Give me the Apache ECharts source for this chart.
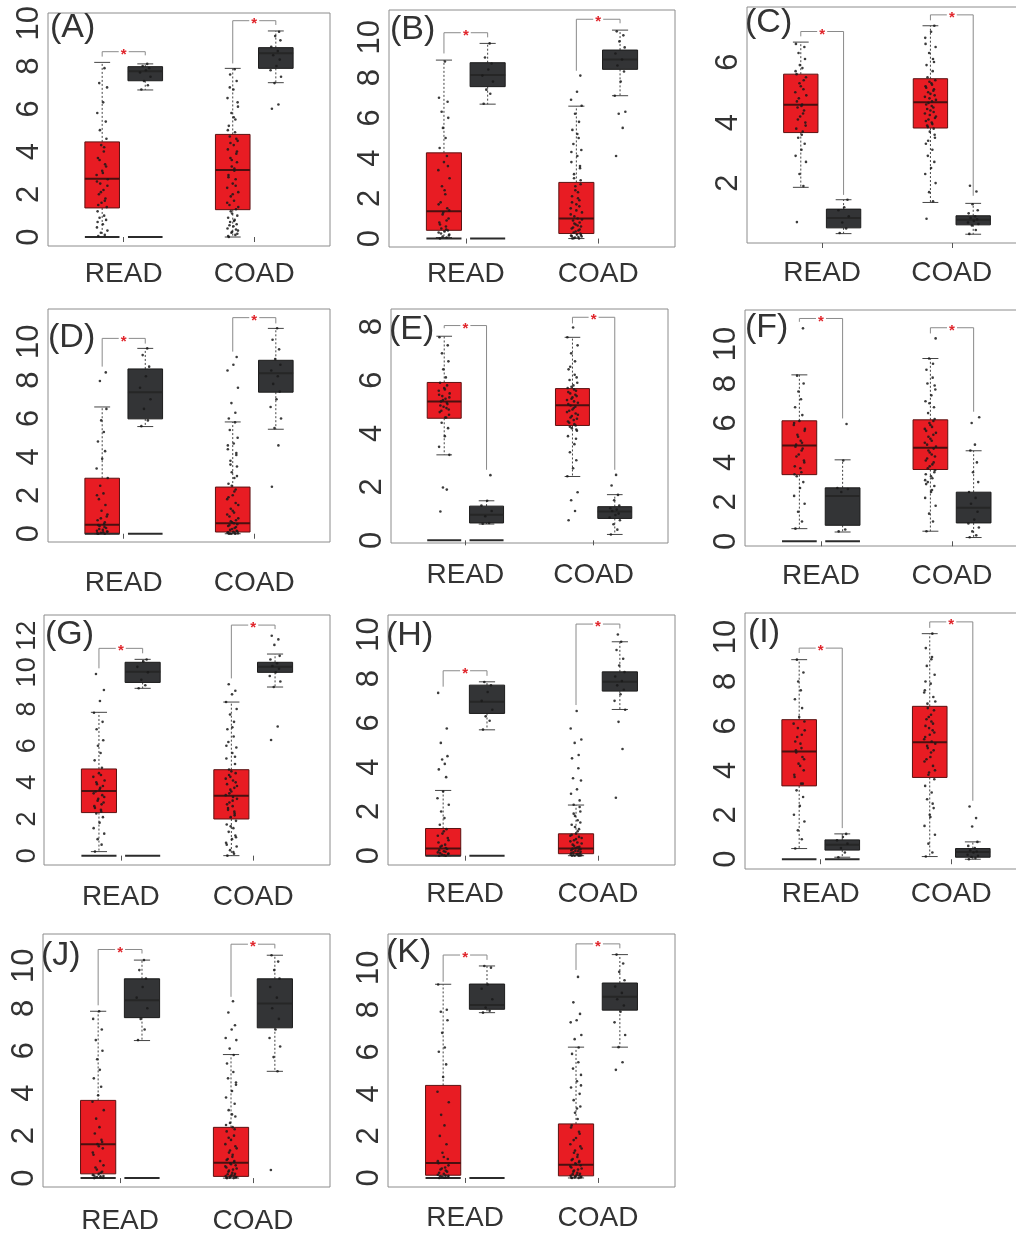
<!DOCTYPE html>
<html>
<head>
<meta charset="utf-8">
<title>READ / COAD expression boxplots</title>
<script src="https://cdn.jsdelivr.net/npm/echarts@6/dist/echarts.min.js"></script>
<style>
  html, body { margin: 0; padding: 0; background: #fff; }
  #main { width: 1016px; height: 1233px; }
</style>
</head>
<body>
<div id="main"></div>
<script>
var groups = ['READ', 'COAD'];
var panelNames = ['(A)', '(B)', '(C)', '(D)', '(E)', '(F)', '(G)', '(H)', '(I)', '(J)', '(K)'];

// box stats [min, Q1, median, Q3, max]: READ tumor, READ normal, COAD tumor, COAD normal
var boxA = [[0, 1.36, 2.73, 4.45, 8.17], [6.88, 7.31, 7.75, 7.97, 8.1], [0, 1.28, 3.13, 4.8, 7.89], [7.22, 7.89, 8.6, 8.86, 9.64]];
var boxB = [[0.05, 0.41, 1.36, 4.26, 8.87], [6.68, 7.55, 8.13, 8.74, 9.7], [0, 0.25, 1.0, 2.79, 6.58], [7.1, 8.41, 8.9, 9.37, 10.36]];
var boxC = [[1.86, 3.67, 4.59, 5.6, 6.66], [0.33, 0.52, 0.85, 1.14, 1.45], [1.36, 3.82, 4.67, 5.45, 7.2], [0.31, 0.62, 0.79, 0.92, 1.33]];
var boxD = [[0, 0, 0.47, 2.89, 6.6], [5.58, 5.98, 7.37, 8.58, 9.65], [0, 0.09, 0.55, 2.43, 5.82], [5.44, 7.37, 8.35, 9.03, 10.69]];
var boxE = [[3.2, 4.57, 5.2, 5.91, 7.64], [0.61, 0.65, 0.96, 1.28, 1.48], [2.39, 4.3, 5.06, 5.68, 7.6], [0.22, 0.82, 1.08, 1.26, 1.71]];
var boxF = [[0.64, 3.38, 4.86, 6.11, 8.44], [0.47, 0.81, 2.3, 2.71, 4.13], [0.51, 3.64, 4.74, 6.16, 9.27], [0.19, 0.93, 1.7, 2.49, 4.59]];
var boxG = [[0.22, 2.35, 3.53, 4.73, 7.82], [9.13, 9.45, 10.04, 10.55, 10.71], [0, 2.0, 3.27, 4.69, 8.38], [9.2, 10.0, 10.3, 10.55, 11.0]];
var boxH = [[0, 0, 0.33, 1.23, 2.95], [5.69, 6.43, 6.96, 7.71, 7.86], [0, 0.09, 0.33, 0.99, 2.29], [6.61, 7.44, 7.86, 8.31, 9.67]];
var boxI = [[0.48, 3.3, 4.85, 6.28, 8.98], [0.09, 0.41, 0.65, 0.87, 1.14], [0.12, 3.68, 5.26, 6.88, 10.15], [0, 0.09, 0.32, 0.48, 0.78]];
var boxJ = [[0, 0.2, 1.59, 3.66, 7.86], [6.48, 7.56, 8.38, 9.39, 10.27], [0, 0.08, 0.72, 2.39, 5.82], [5.03, 7.08, 8.22, 9.39, 10.5]];
var boxK = [[0, 0.13, 0.71, 4.4, 9.21], [7.86, 8.02, 8.22, 9.22, 10.08], [0, 0.1, 0.63, 2.57, 6.22], [6.22, 7.98, 8.62, 9.27, 10.62]];

// individual samples (thinned): READ tumor, READ normal, COAD tumor, COAD normal
var ptsA = [
  [0.05, 0.1, 0.2, 0.3, 0.45, 0.6, 0.8, 0.9, 1.0, 1.2, 1.4, 1.6, 1.8, 2.0, 2.2, 2.5, 2.7, 2.9, 3.1, 3.4, 3.7, 4.0, 4.3, 4.6, 5.0, 5.4, 5.8, 6.3, 7.0, 7.2, 7.9,
   1.5, 1.7, 2.1, 2.4, 2.6, 3.0, 3.3, 3.6, 4.2, 0.7],
  [6.9, 7.1, 7.3, 7.5, 7.7, 7.8, 7.9, 8.0, 8.1],
  [0.0, 0.1, 0.2, 0.3, 0.4, 0.5, 0.6, 0.7, 0.8, 0.9, 1.0, 1.1, 1.3, 1.5, 1.7, 1.9, 2.1, 2.3, 2.5, 2.7, 2.9, 3.1, 3.3, 3.5, 3.7, 3.9, 4.1, 4.3, 4.5, 4.7, 4.9, 5.2, 5.5, 5.8, 6.1, 6.5, 6.9, 7.3, 7.6, 7.85,
   0.05, 0.15, 0.25, 0.35, 0.55, 0.75, 1.2, 1.4, 1.6, 2.0, 2.4, 2.8, 3.2, 3.6, 4.0, 4.4, 4.6, 5.0, 5.6, 6.3, 7.0],
  [6.0, 6.2, 7.2, 7.5, 7.8, 8.0, 8.3, 8.5, 8.7, 8.9, 9.2, 9.4, 9.6]
];
var ptsB = [
  [0, 0.05, 0.1, 0.2, 0.3, 0.35, 0.4, 0.5, 0.6, 0.8, 1.0, 1.3, 1.5, 1.8, 2.2, 2.6, 3.0, 3.4, 3.8, 4.1, 4.5, 5.0, 5.5, 6.0, 6.3, 6.8, 7.0, 8.8,
   0.15, 0.25, 0.45, 0.7, 0.9, 1.2, 1.4, 1.7, 2.4, 3.6],
  [6.7, 7.2, 7.4, 7.8, 8.1, 8.4, 8.7, 9.0, 9.7],
  [0, 0, 0.05, 0.1, 0.15, 0.2, 0.25, 0.3, 0.4, 0.5, 0.6, 0.7, 0.8, 0.9, 1.0, 1.1, 1.3, 1.5, 1.7, 1.9, 2.1, 2.3, 2.6, 2.9, 3.2, 3.5, 3.8, 4.1, 4.4, 4.7, 5.0, 5.4, 5.8, 6.2, 6.6, 6.9, 7.3, 8.1,
   0.02, 0.08, 0.12, 0.18, 0.35, 0.45, 0.55, 0.65, 0.75, 0.95, 1.2, 1.4, 1.6, 1.8, 2.0, 2.4, 2.7, 3.0, 3.6, 4.3, 5.2],
  [4.1, 5.5, 6.2, 6.3, 7.1, 7.8, 8.3, 8.6, 8.9, 9.2, 9.5, 9.8, 10.1, 10.3]
];
var ptsC = [
  [0.71, 1.9, 2.3, 2.7, 2.9, 3.1, 3.3, 3.5, 3.7, 3.8, 4.0, 4.2, 4.4, 4.5, 4.6, 4.8, 4.9, 5.0, 5.2, 5.4, 5.6, 5.8, 5.9, 6.1, 6.3, 6.5, 6.6,
   3.6, 3.9, 4.1, 4.3, 4.7, 5.1, 5.3, 5.5, 5.7, 4.55],
  [0.35, 0.5, 0.7, 0.9, 1.1, 1.2, 1.45],
  [0.82, 1.4, 1.7, 2.0, 2.3, 2.5, 2.7, 2.9, 3.1, 3.3, 3.5, 3.7, 3.8, 3.9, 4.0, 4.1, 4.2, 4.3, 4.4, 4.5, 4.6, 4.7, 4.8, 4.9, 5.0, 5.1, 5.2, 5.3, 5.4, 5.5, 5.7, 5.9, 6.1, 6.3, 6.5, 6.8, 7.0, 7.2,
   3.85, 3.95, 4.05, 4.15, 4.25, 4.35, 4.45, 4.55, 4.65, 4.75, 4.85, 4.95, 5.05, 5.15, 5.25, 5.35, 3.6, 3.4, 6.0, 6.6],
  [0.32, 0.45, 0.6, 0.65, 0.7, 0.75, 0.8, 0.85, 0.9, 1.0, 1.1, 1.3, 1.72, 1.91]
];
var ptsD = [
  [0, 0, 0.05, 0.1, 0.15, 0.2, 0.3, 0.4, 0.5, 0.7, 0.9, 1.2, 1.5, 1.8, 2.1, 2.5, 2.9, 3.4, 3.9, 4.3, 4.8, 5.3, 5.9, 6.5, 7.95, 8.4,
   0.02, 0.08, 0.12, 0.25, 0.35, 0.45, 0.6, 0.8, 1.0, 2.0],
  [5.6, 5.9, 6.5, 7.0, 7.6, 8.2, 8.7, 9.3, 9.65],
  [0, 0, 0, 0.02, 0.05, 0.1, 0.15, 0.2, 0.3, 0.4, 0.5, 0.6, 0.7, 0.9, 1.1, 1.3, 1.5, 1.8, 2.0, 2.3, 2.6, 2.9, 3.2, 3.5, 3.8, 4.1, 4.4, 4.7, 5.0, 5.4, 5.8, 6.0, 6.3, 6.8, 7.6, 8.5, 8.8, 9.2,
   0.01, 0.03, 0.08, 0.12, 0.25, 0.35, 0.45, 0.55, 0.65, 0.8, 1.0, 1.2, 1.6, 1.9, 2.2, 2.5, 3.0, 3.6, 4.2, 4.6],
  [2.45, 4.6, 5.5, 6.0, 6.6, 7.0, 7.4, 7.8, 8.2, 8.5, 8.8, 9.1, 9.6, 10.1, 10.7]
];
var ptsE = [
  [1.08, 1.9, 1.98, 3.2, 3.5, 3.9, 4.2, 4.4, 4.6, 4.8, 4.9, 5.0, 5.1, 5.2, 5.3, 5.4, 5.5, 5.6, 5.7, 5.8, 5.9, 6.1, 6.4, 6.7, 7.0, 7.3, 7.6,
   4.6, 4.7, 4.85, 4.95, 5.05, 5.15, 5.25, 5.35, 5.45, 5.65],
  [0.62, 0.65, 0.9, 1.1, 1.3, 1.48, 2.44],
  [0.75, 1.1, 1.5, 1.8, 2.4, 2.7, 3.0, 3.3, 3.6, 3.9, 4.1, 4.2, 4.3, 4.4, 4.5, 4.6, 4.7, 4.8, 4.9, 5.0, 5.1, 5.2, 5.3, 5.4, 5.5, 5.6, 5.7, 5.8, 5.9, 6.0, 6.2, 6.4, 6.7, 7.0, 7.3, 7.6, 7.97,
   4.15, 4.25, 4.35, 4.45, 4.55, 4.65, 4.75, 4.85, 4.95, 5.05, 5.15, 5.25, 5.35, 5.45, 5.55, 5.65, 5.75, 6.1, 6.5, 3.8],
  [0.22, 0.4, 0.6, 0.75, 0.85, 0.95, 1.0, 1.1, 1.15, 1.2, 1.3, 1.5, 1.7, 2.05, 2.45]
];
var ptsF = [
  [0.64, 1.0, 1.5, 1.9, 2.3, 2.7, 3.0, 3.3, 3.5, 3.8, 4.1, 4.4, 4.7, 4.9, 5.1, 5.4, 5.7, 5.9, 6.1, 6.4, 6.8, 7.2, 7.6, 8.0, 8.4, 10.8,
   3.4, 3.7, 4.0, 4.3, 4.6, 4.8, 5.0, 5.3, 5.6, 6.0],
  [0.5, 0.6, 2.5, 2.65, 2.7, 4.1, 5.95],
  [0.51, 1.0, 1.4, 1.8, 2.2, 2.5, 2.8, 3.0, 3.2, 3.4, 3.6, 3.8, 4.0, 4.2, 4.4, 4.6, 4.8, 5.0, 5.2, 5.4, 5.6, 5.8, 6.0, 6.2, 6.5, 6.8, 7.1, 7.4, 7.7, 8.0, 8.3, 8.7, 9.0, 9.27, 10.29,
   3.1, 3.3, 3.5, 3.7, 3.9, 4.1, 4.3, 4.5, 4.7, 4.9, 5.1, 5.3, 5.5, 5.7, 5.9, 6.1, 2.9, 2.6, 7.0, 7.9],
  [0.2, 0.3, 0.5, 0.7, 0.9, 1.1, 1.5, 1.9, 2.2, 2.5, 3.0, 3.5, 4.0, 4.6, 4.9, 6.0, 6.29]
];
var ptsG = [
  [0.22, 0.6, 0.9, 1.2, 1.5, 1.8, 2.1, 2.3, 2.5, 2.7, 2.9, 3.1, 3.3, 3.5, 3.7, 3.9, 4.1, 4.3, 4.5, 4.8, 5.2, 5.6, 6.0, 6.3, 6.9, 7.3, 7.8, 8.44, 9.04, 9.91,
   2.4, 2.6, 2.8, 3.0, 3.2, 3.4, 3.6, 3.8, 4.0, 4.4],
  [9.13, 9.3, 9.6, 10.0, 10.3, 10.6, 10.7],
  [0, 0.1, 0.3, 0.5, 0.7, 0.9, 1.1, 1.3, 1.5, 1.7, 1.9, 2.1, 2.3, 2.5, 2.7, 2.9, 3.1, 3.3, 3.5, 3.7, 3.9, 4.1, 4.3, 4.5, 4.7, 5.0, 5.3, 5.6, 5.9, 6.2, 6.5, 6.9, 7.3, 7.7, 8.0, 8.38, 8.8, 9.0, 9.35,
   0.2, 0.6, 1.0, 1.6, 2.2, 2.6, 3.0, 3.4, 3.8, 4.2, 4.6, 2.4, 2.8, 3.2, 3.6, 4.0, 4.4, 5.4, 6.0, 7.0],
  [6.31, 7.05, 9.2, 9.5, 9.8, 10.0, 10.2, 10.35, 10.5, 10.7, 10.9, 11.5, 11.8, 12.0]
];
var ptsH = [
  [0, 0, 0.05, 0.1, 0.15, 0.2, 0.3, 0.4, 0.5, 0.6, 0.8, 1.0, 1.2, 1.4, 1.7, 2.0, 2.3, 2.6, 2.9, 3.55, 3.9, 4.15, 4.35, 4.5, 5.1, 5.75, 7.36,
   0.02, 0.08, 0.12, 0.18, 0.25, 0.35, 0.45, 0.7, 0.9, 1.1],
  [5.7, 6.1, 6.3, 6.6, 7.0, 7.4, 7.7, 7.85],
  [0, 0, 0, 0.02, 0.05, 0.08, 0.1, 0.15, 0.2, 0.25, 0.3, 0.35, 0.4, 0.5, 0.6, 0.7, 0.8, 0.9, 1.0, 1.2, 1.4, 1.6, 1.8, 2.0, 2.3, 2.5, 2.8, 3.0, 3.4, 3.5, 3.95, 4.4, 4.55, 5.1, 5.25, 5.75, 6.54,
   0.01, 0.03, 0.06, 0.12, 0.18, 0.22, 0.28, 0.32, 0.38, 0.45, 0.55, 0.65, 0.75, 0.85, 0.95, 1.1, 1.3, 1.5, 1.9, 2.2],
  [2.62, 4.82, 6.05, 6.6, 7.0, 7.3, 7.5, 7.7, 7.9, 8.1, 8.3, 8.6, 8.9, 9.3, 9.67, 10.0]
];
var ptsI = [
  [0.48, 0.9, 1.3, 1.7, 2.0, 2.4, 2.8, 3.1, 3.4, 3.7, 4.0, 4.3, 4.6, 4.9, 5.2, 5.5, 5.8, 6.1, 6.4, 6.8, 7.2, 7.6, 8.0, 8.4, 8.98,
   3.4, 3.8, 4.2, 4.5, 4.8, 5.0, 5.3, 5.6, 5.9, 6.2],
  [0.09, 0.3, 0.5, 0.7, 0.85, 1.0, 1.14],
  [0.12, 0.3, 0.7, 1.1, 1.5, 1.9, 2.3, 2.7, 3.0, 3.3, 3.6, 3.9, 4.2, 4.5, 4.8, 5.0, 5.2, 5.4, 5.6, 5.8, 6.0, 6.2, 6.4, 6.7, 7.0, 7.3, 7.6, 7.9, 8.3, 8.7, 9.1, 9.5, 10.15,
   3.8, 4.0, 4.4, 4.6, 4.9, 5.1, 5.3, 5.5, 5.7, 5.9, 6.1, 6.3, 6.5, 6.8, 7.1, 7.5, 2.0, 2.5, 8.0, 9.0],
  [0, 0.05, 0.1, 0.15, 0.2, 0.3, 0.35, 0.4, 0.5, 0.6, 0.78, 1.47, 1.85, 2.37]
];
var ptsJ = [
  [0, 0.02, 0.05, 0.1, 0.15, 0.2, 0.3, 0.5, 0.8, 1.1, 1.4, 1.6, 1.8, 2.1, 2.4, 2.8, 3.2, 3.6, 3.9, 4.3, 4.7, 5.1, 5.6, 6.0, 6.5, 7.0, 7.5, 7.86,
   0.01, 0.03, 0.08, 0.12, 0.25, 0.4, 0.6, 1.2, 1.5, 1.7],
  [6.5, 7.0, 7.5, 8.0, 8.5, 9.0, 9.4, 9.8, 10.27],
  [0, 0, 0.02, 0.05, 0.1, 0.15, 0.2, 0.3, 0.4, 0.5, 0.6, 0.7, 0.8, 0.9, 1.0, 1.2, 1.4, 1.6, 1.8, 2.0, 2.2, 2.4, 2.6, 2.9, 3.2, 3.5, 3.8, 4.1, 4.4, 4.7, 5.0, 5.4, 5.8, 6.1, 6.5, 6.6, 7.0, 7.2, 7.8, 8.33,
   0.01, 0.03, 0.08, 0.12, 0.18, 0.25, 0.35, 0.45, 0.55, 0.65, 0.75, 0.85, 1.1, 1.3, 1.5, 1.9, 2.3, 2.5, 3.0, 4.5],
  [0.38, 5.03, 5.7, 6.2, 6.6, 7.0, 7.5, 8.0, 8.5, 9.0, 9.4, 9.8, 10.2, 10.5]
];
var ptsK = [
  [0, 0.02, 0.05, 0.1, 0.15, 0.2, 0.3, 0.4, 0.5, 0.7, 0.9, 1.2, 1.6, 2.0, 2.5, 3.0, 3.6, 4.1, 4.8, 5.4, 6.0, 6.2, 6.9, 7.5, 7.9, 8.0, 9.2,
   0.01, 0.03, 0.08, 0.12, 0.25, 0.35, 0.45, 0.6, 0.8, 1.0],
  [7.86, 7.95, 8.1, 8.5, 9.0, 9.2, 10.0, 10.08],
  [0, 0, 0.02, 0.05, 0.1, 0.15, 0.2, 0.3, 0.4, 0.5, 0.6, 0.7, 0.8, 0.9, 1.0, 1.2, 1.4, 1.6, 1.9, 2.2, 2.5, 2.8, 3.1, 3.4, 3.7, 4.0, 4.3, 4.6, 4.9, 5.2, 5.5, 5.9, 6.2, 6.6, 6.8, 7.4, 7.5, 7.8, 8.35, 9.56,
   0.01, 0.03, 0.08, 0.12, 0.18, 0.25, 0.35, 0.45, 0.55, 0.65, 0.75, 0.85, 1.1, 1.3, 1.5, 1.8, 2.1, 2.4, 3.3, 4.4],
  [5.14, 5.5, 6.22, 6.8, 7.4, 7.9, 8.2, 8.5, 8.8, 9.1, 9.4, 9.8, 10.2, 10.62]
];

// significance brackets [bar height, left leg end, right leg end] for READ, COAD
var brkA = [[8.67, 8.44, 8.5], [10.12, 8.12, 9.92]];
var brkB = [[10.23, 9.2, 10.0], [10.9, 8.34, 10.7]];
var brkC = [[7.01, 6.85, 1.61], [7.56, 7.38, 1.58]];
var brkD = [[10.17, 8.7, 9.9], [11.25, 9.48, 10.95]];
var brkE = [[8.04, 7.94, 2.64], [8.35, 8.12, 2.64]];
var brkF = [[11.3, 11.13, 6.23], [10.83, 10.54, 6.57]];
var brkG = [[11.31, 10.22, 11.04], [12.58, 9.67, 12.36]];
var brkH = [[8.36, 7.64, 8.13], [10.47, 6.81, 10.27]];
var brkI = [[9.5, 9.28, 1.4], [10.68, 10.41, 2.63]];
var brkJ = [[10.77, 8.14, 10.58], [11.02, 8.54, 10.82]];
var brkK = [[10.6, 9.33, 10.37], [11.13, 9.89, 10.92]];

// y axis extents and tick labels
var yRanges = [[-0.42, 10.48], [-0.42, 11.36], [0.02, 7.82], [-0.43, 11.7], [-0.1, 8.66], [-0.24, 11.73],
               [-0.51, 13.13], [-0.42, 10.88], [-0.44, 11.08], [-0.42, 11.5], [-0.43, 11.6]];
var ticks10 = [0, 2, 4, 6, 8, 10];
var ticksC = [2, 4, 6];
var ticksE = [0, 2, 4, 6, 8];
var ticksG = [0, 2, 4, 6, 8, 10, 12];

var panels = [
  { box: boxA, pts: ptsA, brk: brkA, ticks: ticks10, zero: true },
  { box: boxB, pts: ptsB, brk: brkB, ticks: ticks10, zero: true },
  { box: boxC, pts: ptsC, brk: brkC, ticks: ticksC, zero: false },
  { box: boxD, pts: ptsD, brk: brkD, ticks: ticks10, zero: true },
  { box: boxE, pts: ptsE, brk: brkE, ticks: ticksE, zero: true },
  { box: boxF, pts: ptsF, brk: brkF, ticks: ticks10, zero: true },
  { box: boxG, pts: ptsG, brk: brkG, ticks: ticksG, zero: true },
  { box: boxH, pts: ptsH, brk: brkH, ticks: ticks10, zero: true },
  { box: boxI, pts: ptsI, brk: brkI, ticks: ticks10, zero: true },
  { box: boxJ, pts: ptsJ, brk: brkJ, ticks: ticks10, zero: true },
  { box: boxK, pts: ptsK, brk: brkK, ticks: ticks10, zero: true }
];

// layout: grid [left, top, width, height], panel letter [left, top], x label margin, y label size
var layout = [
  { grid: [48, 13, 282, 233], tag: [50, 11], xm: 14, yf: 31 },
  { grid: [389, 10, 286, 237], tag: [390, 13], xm: 13, yf: 31 },
  { grid: [747, 7, 280, 236], tag: [745, 6], xm: 16, yf: 31 },
  { grid: [48, 309, 282, 233], tag: [48, 321], xm: 27, yf: 31 },
  { grid: [391, 309, 277, 234], tag: [389, 313], xm: 18, yf: 31 },
  { grid: [745, 310, 283, 236], tag: [745, 311], xm: 16, yf: 31 },
  { grid: [44, 615, 286, 250], tag: [45, 618], xm: 18, yf: 27 },
  { grid: [388, 615, 287, 250], tag: [386, 619], xm: 15, yf: 31 },
  { grid: [745, 613, 282, 256], tag: [748, 616], xm: 11, yf: 31 },
  { grid: [43, 934, 287, 253], tag: [41, 939], xm: 20, yf: 31 },
  { grid: [388, 934, 287, 253], tag: [386, 936], xm: 17, yf: 31 }
];

var X_POS = [0.67, 1.33, 2.67, 3.33];
var BOX_W = 0.53;
var JITTER = [-0.06, 0.04, -0.02, 0.08, -0.08, 0.01, 0.06, -0.04, 0.03, -0.07, 0.07, -0.01, 0.05, -0.05, 0.02,
              -0.03, 0.085, -0.085, 0.0, 0.045, -0.065, 0.025, -0.015, 0.065, -0.035, 0.055, -0.075, 0.015, 0.075, -0.045, 0.035];
var RED = '#e81c23';
var DARK = '#333436';
var FONT = 'Liberation Sans, Arial, sans-serif';

function renderBox(params, api) {
  var x = api.value(0);
  var kind = api.value(6);
  var w = api.size([BOX_W, 0])[0];
  var px = api.coord([x, 0])[0];
  function yOf(v) { return api.coord([x, v])[1]; }
  if (kind === 2) {
    var y0 = yOf(0);
    return { type: 'line', shape: { x1: px - w / 2, y1: y0, x2: px + w / 2, y2: y0 },
             style: { stroke: '#2b2b2b', lineWidth: 2 } };
  }
  var lo = yOf(api.value(1)), q1 = yOf(api.value(2)), md = yOf(api.value(3)),
      q3 = yOf(api.value(4)), hi = yOf(api.value(5));
  var cap = w * 0.23;
  var red = kind === 0;
  var wl = { stroke: '#444', lineWidth: 1, lineDash: [2, 2] };
  var cl = { stroke: '#444', lineWidth: 1 };
  return {
    type: 'group',
    children: [
      { type: 'line', shape: { x1: px, y1: q3, x2: px, y2: hi }, style: wl },
      { type: 'line', shape: { x1: px, y1: q1, x2: px, y2: lo }, style: wl },
      { type: 'line', shape: { x1: px - cap, y1: hi, x2: px + cap, y2: hi }, style: cl },
      { type: 'line', shape: { x1: px - cap, y1: lo, x2: px + cap, y2: lo }, style: cl },
      { type: 'rect', shape: { x: px - w / 2, y: q3, width: w, height: Math.max(q1 - q3, 1) },
        style: { fill: red ? RED : DARK, stroke: red ? '#5c1212' : '#1c1c1c', lineWidth: 1 } },
      { type: 'line', shape: { x1: px - w / 2, y1: md, x2: px + w / 2, y2: md },
        style: { stroke: red ? '#4a1010' : '#262626', lineWidth: 2 } }
    ]
  };
}

function renderBracket(params, api) {
  var pL = api.coord([api.value(0), api.value(2)]);
  var pR = api.coord([api.value(1), api.value(2)]);
  var yl = api.coord([api.value(0), api.value(3)])[1];
  var yr = api.coord([api.value(1), api.value(4)])[1];
  var mid = (pL[0] + pR[0]) / 2;
  var st = { stroke: '#8a8a8a', lineWidth: 1, fill: 'none' };
  return {
    type: 'group',
    children: [
      { type: 'polyline', shape: { points: [[pL[0], yl], [pL[0], pL[1]], [mid - 5, pL[1]]] }, style: st },
      { type: 'polyline', shape: { points: [[mid + 5, pR[1]], [pR[0], pR[1]], [pR[0], yr]] }, style: st },
      { type: 'text', x: mid, y: pL[1] + 3,
        style: { text: '*', fill: '#e0252b', fontSize: 15, fontWeight: 'bold', fontFamily: FONT,
                 align: 'center', verticalAlign: 'middle' } }
    ]
  };
}

var grids = [], xAxes = [], yAxes = [], titles = [], series = [];

panels.forEach(function (p, i) {
  var L = layout[i];
  grids.push({
    left: L.grid[0], top: L.grid[1], width: L.grid[2], height: L.grid[3],
    show: true, borderColor: '#8c8c8c', borderWidth: 1, backgroundColor: '#fff',
    outerBoundsMode: 'none', containLabel: false
  });
  xAxes.push({
    type: 'value', gridIndex: i, min: -0.16, max: 4.16,
    axisLine: { show: false }, splitLine: { show: false },
    axisTick: { show: true, customValues: [1, 3], length: 5, lineStyle: { color: '#555' } },
    axisLabel: {
      customValues: [1, 3], margin: L.xm, fontSize: 28, color: '#333', fontFamily: FONT,
      formatter: function (v) { return v < 2 ? groups[0] : groups[1]; }
    }
  });
  yAxes.push({
    type: 'value', gridIndex: i, min: yRanges[i][0], max: yRanges[i][1],
    axisLine: { show: false }, axisTick: { show: false }, splitLine: { show: false },
    axisLabel: { customValues: p.ticks, rotate: 90, margin: 3, fontSize: L.yf, color: '#333', fontFamily: FONT,
                 hideOverlap: false }
  });
  titles.push({
    text: panelNames[i], left: L.tag[0], top: L.tag[1], padding: 0,
    textStyle: { fontSize: 34, fontWeight: 'normal', color: '#333', fontFamily: FONT }
  });

  var boxData = p.box.map(function (b, j) {
    return [X_POS[j], b[0], b[1], b[2], b[3], b[4], j % 2];
  });
  if (p.zero) {
    boxData.push([X_POS[0], 0, 0, 0, 0, 0, 2]);
    boxData.push([X_POS[1], 0, 0, 0, 0, 0, 2]);
  }
  series.push({
    type: 'custom', xAxisIndex: i, yAxisIndex: i, renderItem: renderBox,
    data: boxData, z: 2, silent: true
  });

  var ptData = [];
  p.pts.forEach(function (list, j) {
    list.forEach(function (v, k) {
      ptData.push([X_POS[j] + JITTER[k % JITTER.length], v]);
    });
  });
  series.push({
    type: 'scatter', xAxisIndex: i, yAxisIndex: i, data: ptData, z: 3, silent: true,
    symbolSize: 2.6, itemStyle: { color: '#1a1a1a', opacity: 0.85 }
  });

  series.push({
    type: 'custom', xAxisIndex: i, yAxisIndex: i, renderItem: renderBracket, z: 3, silent: true,
    data: p.brk.map(function (b, g) { return [X_POS[2 * g], X_POS[2 * g + 1], b[0], b[1], b[2]]; })
  });
});

var myChart = echarts.init(document.getElementById('main'), null, { renderer: 'canvas' });
myChart.setOption({
  animation: false,
  backgroundColor: '#fff',
  textStyle: { fontFamily: FONT },
  title: titles,
  grid: grids,
  xAxis: xAxes,
  yAxis: yAxes,
  series: series
});
</script>
</body>
</html>
